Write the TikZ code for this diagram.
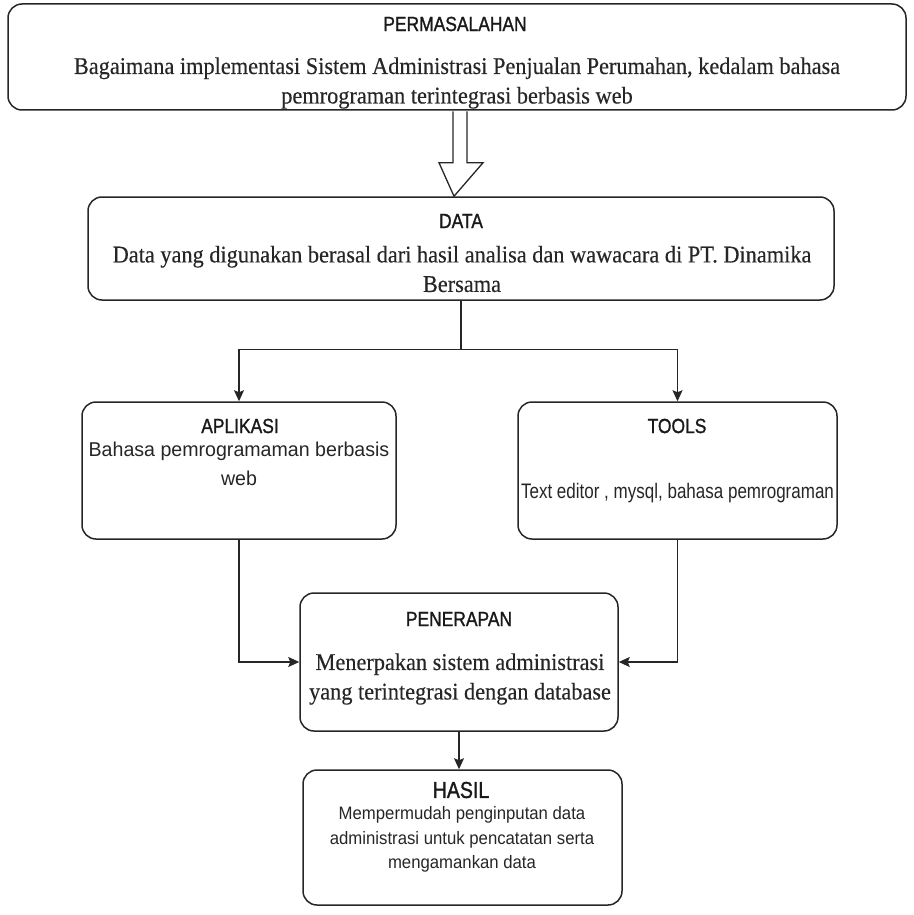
\documentclass[tikz,border=0pt]{standalone}
\usepackage{fontspec}
\setmainfont{Liberation Serif}
\newfontfamily\ttlfont[FakeStretch=0.85,FakeBold=1.2]{Liberation Sans}
\newfontfamily\serifbody[FakeStretch=0.93,FakeBold=0.3]{Liberation Serif}
\newfontfamily\sansbody[FakeStretch=0.98]{Liberation Sans}
\newfontfamily\narrowsans[FakeStretch=0.81]{Liberation Sans}
\newfontfamily\hasilsans[FakeStretch=0.93]{Liberation Sans}
\usetikzlibrary{arrows.meta,calc}
\tikzset{
  box/.style={draw=black!85, line width=1.5pt, rounded corners=14pt, rectangle, inner sep=0pt},
  ttl/.style={font=\ttlfont\fontsize{20.5}{23}\selectfont, text=black!90, inner sep=0pt},
  sbody/.style={font=\serifbody\fontsize{24}{29.5}\selectfont, text=black!85, align=center, inner sep=0pt},
  conn/.style={draw=black!85, line width=1.4pt},
  arr/.style={conn, -{Stealth[length=11pt,width=10pt,inset=2pt]}},
}
\begin{document}
\begin{tikzpicture}[x=1pt,y=-1pt]
\useasboundingbox (0,0) rectangle (913,915);
% boxes
\node[box, minimum width=898pt, minimum height=106pt] (perm) at (457,57) {};
\node[box, minimum width=746pt, minimum height=103pt] (data) at (461,248.5) {};
\node[box, minimum width=314pt, minimum height=137pt] (apl) at (239,470.5) {};
\node[box, minimum width=319pt, minimum height=137pt] (tools) at (677.5,470.5) {};
\node[box, minimum width=318pt, minimum height=138pt] (pen) at (459,662) {};
\node[box, minimum width=319pt, minimum height=135pt] (hasil) at (462.5,837.5) {};
% texts
\node[ttl] (permT) at (455,24) {PERMASALAHAN};
\node[sbody] (permB) at (457,83) {Bagaimana implementasi Sistem Administrasi Penjualan Perumahan, kedalam bahasa\\pemrograman terintegrasi berbasis web};
\node[ttl] (dataT) at (461,221) {DATA};
\node[sbody] (dataB) at (462,269) {Data yang digunakan berasal dari hasil analisa dan wawacara di PT. Dinamika\\Bersama};
\node[ttl] (aplT) at (240,426) {APLIKASI};
\node[font=\sansbody\fontsize{20}{29}\selectfont, text=black!85, align=center, inner sep=0pt] (aplB) at (239,464) {Bahasa pemrogramaman berbasis\\web};
\node[ttl] (toolsT) at (677,426) {TOOLS};
\node[font=\narrowsans\fontsize{21}{25}\selectfont, text=black!85, inner sep=0pt] (toolsB) at (677.5,493) {Text editor , mysql, bahasa pemrograman};
\node[ttl] (penT) at (459,619) {PENERAPAN};
\node[sbody] (penB) at (460,679) {Menerpakan sistem administrasi\\yang terintegrasi dengan database};
\node[font=\ttlfont\fontsize{23}{26}\selectfont, text=black!90, inner sep=0pt] (hasilT) at (461,790) {HASIL};
\node[font=\hasilsans\fontsize{18}{24.5}\selectfont, text=black!85, align=center, inner sep=0pt] (hasilB) at (462,839.5) {Mempermudah penginputan data\\administrasi untuk pencatatan serta\\mengamankan data};
% hollow arrow
\draw[conn, line width=1.3pt, fill=white, line join=miter]
  ($(perm.south)+(-4,0.7)$) -- ($(perm.south)+(-4,52)$) -- ($(perm.south)+(-18,52)$)
  -- ($(data.north)+(-7,0)$) -- ($(perm.south)+(26,52)$) -- ($(perm.south)+(10,52)$)
  -- ($(perm.south)+(10,0.7)$);
% connectors
\coordinate (split) at ($(data.south)+(0,49)$);
\draw[conn] (data.south) -- (split);
\draw[arr] (split) -| (apl.north);
\draw[arr] (split) -| (tools.north);
\draw[arr] (apl.south) |- (pen.west);
\draw[arr] (tools.south) |- (pen.east);
\draw[arr] (pen.south) -- (pen.south |- hasil.north);
\end{tikzpicture}
\end{document}
